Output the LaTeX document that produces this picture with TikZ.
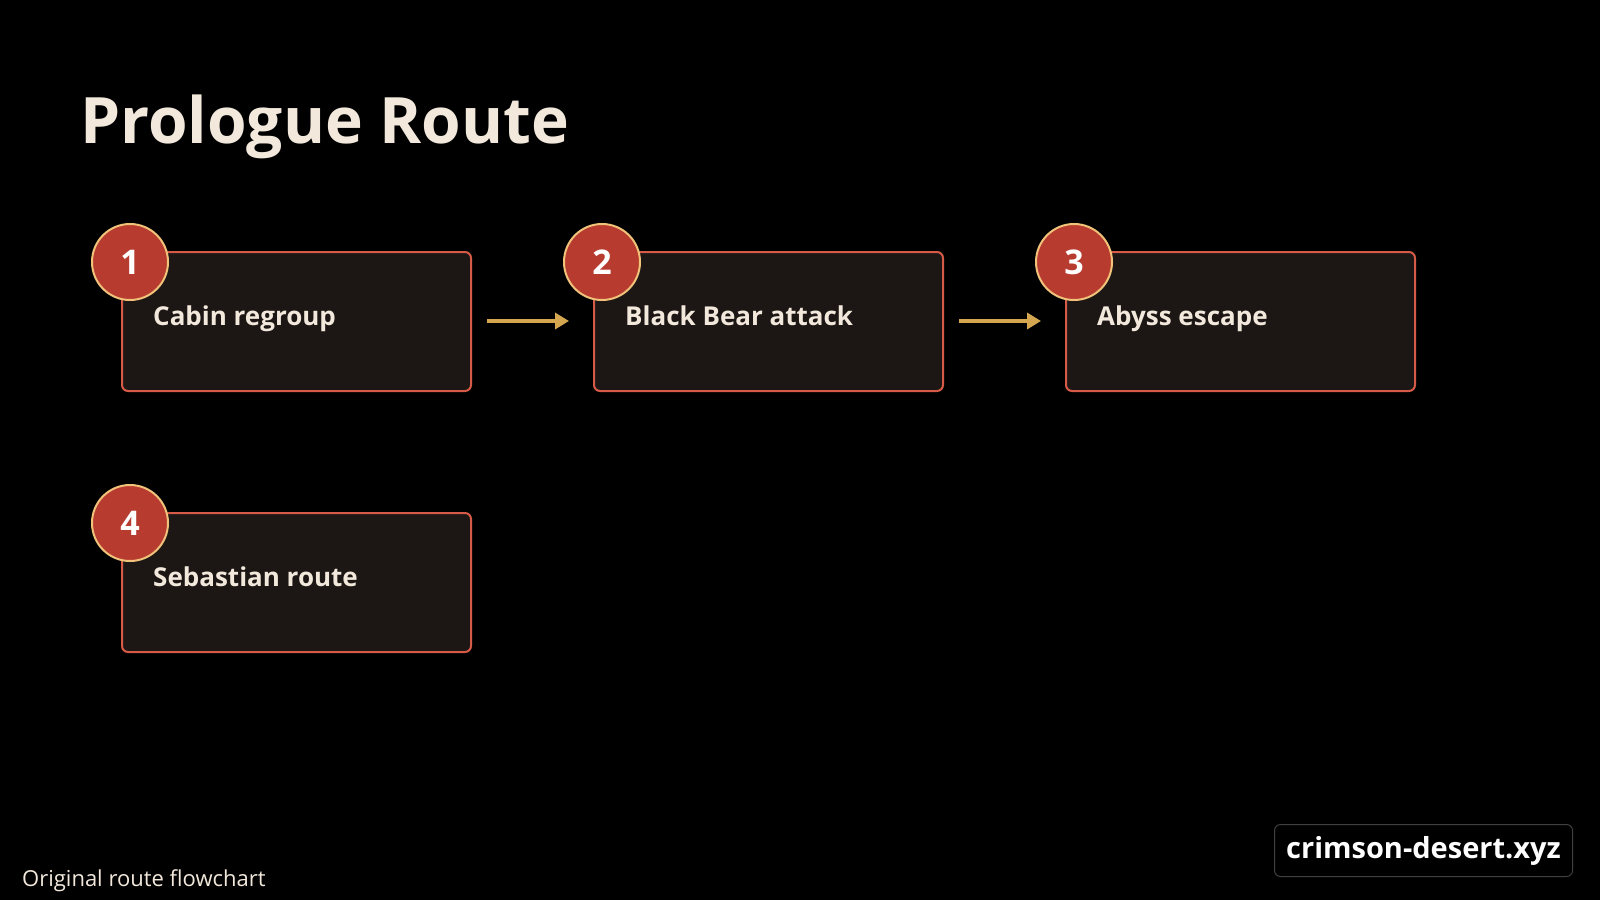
\documentclass[tikz,border=0pt]{standalone}
\usepackage{fontspec}
\setmainfont{Open Sans}
\usetikzlibrary{positioning, arrows.meta}
\definecolor{boxfill}{HTML}{1C1715}
\definecolor{boxline}{HTML}{D55A48}
\definecolor{badgefill}{HTML}{B83B30}
\definecolor{badgeline}{HTML}{F0C27A}
\definecolor{arrowgold}{HTML}{D4A650}
\definecolor{cream}{HTML}{F2E8DC}

\begin{document}
\begin{tikzpicture}[x=1pt, y=-1pt, >={Triangle[length=14pt, width=16pt]}]
\tikzstyle{routestep} = [draw=boxline, line width=2pt, rounded corners=6pt, fill=boxfill, minimum width=349pt, minimum height=139pt, inner sep=0pt]
\tikzstyle{badge} = [circle, draw=badgeline, line width=2pt, fill=badgefill, minimum size=76pt, inner sep=0pt, text=white, font={\fontsize{34}{34}\selectfont\bfseries}]
\tikzstyle{steplabel} = [anchor=base west, text=cream, font={\fontsize{26}{26}\selectfont\bfseries}, inner sep=0pt]
\tikzstyle{flow} = [->, arrowgold, line width=4pt]

\fill[black] (0,0) rectangle (1600,900);
\useasboundingbox (0,0) rectangle (1600,900);

%title
\node (title)[anchor=base west, text=cream, inner sep=0pt, font={\fontsize{64}{64}\selectfont\bfseries}] at (80,143) {Prologue Route};

%steps
\node (s1)[routestep, anchor=north west] at (121,251) {};
\node (s2)[routestep, right = 121pt of s1] {};
\node (s3)[routestep, right = 121pt of s2] {};
\node (s4)[routestep, below = 120pt of s1] {};

\foreach \s/\n/\t in {s1/1/Cabin regroup, s2/2/Black Bear attack, s3/3/Abyss escape, s4/4/Sebastian route}{
  \node (\s badge)[badge] at ([xshift=9pt, yshift=-11pt]\s.north west) {\n};
  \node (\s text)[steplabel] at ([xshift=32pt, yshift=-74pt]\s.north west) {\t};
}

%arrows
\coordinate (a1) at ([xshift=15pt, yshift=-70pt]s1.north east);
\coordinate (b1) at ([xshift=-24pt, yshift=-70pt]s2.north west);
\coordinate (a2) at ([xshift=15pt, yshift=-70pt]s2.north east);
\coordinate (b2) at ([xshift=-24pt, yshift=-70pt]s3.north west);
\draw [flow] (a1) -- (b1);
\draw [flow] (a2) -- (b2);

%footer
\node (caption)[anchor=base west, text=cream, inner sep=0pt, font={\fontsize{22}{22}\selectfont}] at (22,886) {Original route flowchart};
\node (site)[draw=white!25!black, line width=1pt, rounded corners=6pt, minimum width=298pt, minimum height=52pt, text=white, font={\fontsize{29}{29}\selectfont\bfseries}, anchor=north west] at (1274,824) {crimson-desert.xyz};
\end{tikzpicture}
\end{document}
